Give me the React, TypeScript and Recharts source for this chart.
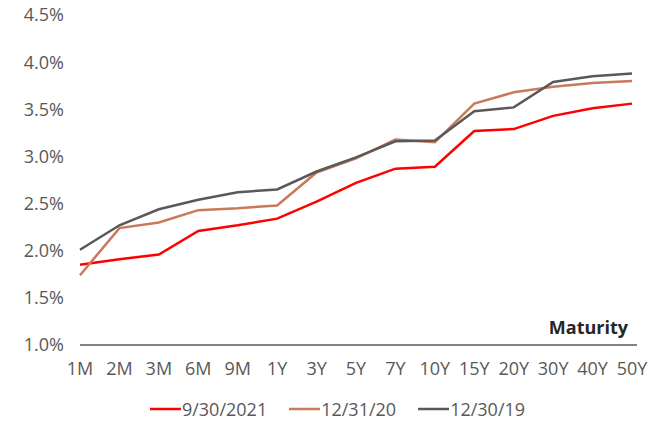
import React from 'react';
import { LineChart, Line, XAxis, YAxis, Legend } from 'recharts';

// Treasury-style yield curves, % by maturity
const maturities = ['1M', '2M', '3M', '6M', '9M', '1Y', '3Y', '5Y', '7Y', '10Y', '15Y', '20Y', '30Y', '40Y', '50Y'];
const sep2021 = [1.85, 1.91, 1.96, 2.21, 2.27, 2.34, 2.52, 2.72, 2.87, 2.89, 3.27, 3.29, 3.43, 3.51, 3.56];
const dec2020 = [1.74, 2.24, 2.3, 2.43, 2.45, 2.48, 2.83, 2.98, 3.18, 3.15, 3.56, 3.68, 3.74, 3.78, 3.8];
const dec2019 = [2.01, 2.27, 2.44, 2.54, 2.62, 2.65, 2.84, 2.99, 3.16, 3.17, 3.48, 3.52, 3.79, 3.85, 3.88];
const seriesNames = ['9/30/2021', '12/31/20', '12/30/19'];
const yTicks = [1, 1.5, 2, 2.5, 3, 3.5, 4, 4.5];

const data = maturities.map((m, i) => ({
  name: m,
  s1: sep2021[i],
  s2: dec2020[i],
  s3: dec2019[i],
}));

const font = '"Open Sans", sans-serif';

const LegendContent = (props: any) => {
  const items = [...(props.payload || [])].sort(
    (a: any, b: any) => seriesNames.indexOf(a.value) - seriesNames.indexOf(b.value)
  );
  return (
    <div style={{ display: 'flex', justifyContent: 'center', fontFamily: font, fontSize: 18, color: '#595959' }}>
      {items.map((it: any) => (
        <div key={it.value} style={{ display: 'flex', alignItems: 'center', margin: '0 11px' }}>
          <svg width={31} height={4} style={{ marginRight: 1 }}>
            <line x1={0} y1={2} x2={31} y2={2} stroke={it.color} strokeWidth={2.5} />
          </svg>
          <span>{it.value}</span>
        </div>
      ))}
    </div>
  );
};

const App: React.FC = () => {
  return (
    <div style={{ width: 656, height: 425, marginTop: -8 }}>
      <LineChart width={656} height={425} data={data} margin={{ top: 15, right: 27, left: 0, bottom: 0 }}>
        <XAxis
          dataKey="name"
          padding={{ left: 0, right: 5 }}
          interval={0}
          tickLine={false}
          tickSize={0}
          tickMargin={17}
          height={56}
          axisLine={{ stroke: '#595959', strokeWidth: 1.3 }}
          tick={{ fill: '#595959', fontSize: 18, fontFamily: font }}
          label={{
            content: (p: any) => {
              const vb = p.viewBox;
              return (
                <text x={vb.x + vb.width - 9} y={vb.y - 11} textAnchor="end" fill="#262626" fontWeight="bold" fontSize={18} fontFamily={font}>
                  Maturity
                </text>
              );
            },
          }}
        />
        <YAxis
          width={72}
          domain={[1, 4.5]}
          ticks={yTicks}
          axisLine={false}
          tickLine={false}
          tickSize={0}
          tickMargin={16}
          tickFormatter={(v: number) => v.toFixed(1) + '%'}
          tick={{ fill: '#595959', fontSize: 18, fontFamily: font }}
        />
        <Legend verticalAlign="bottom" content={LegendContent} wrapperStyle={{ top: 397, left: 0, width: 659 }} />
        <Line dataKey="s1" name={seriesNames[0]} stroke="#FF0000" strokeWidth={2.5} dot={false} isAnimationActive={false} />
        <Line dataKey="s2" name={seriesNames[1]} stroke="#C97A5B" strokeWidth={2.5} dot={false} isAnimationActive={false} />
        <Line dataKey="s3" name={seriesNames[2]} stroke="#595959" strokeWidth={2.5} dot={false} isAnimationActive={false} />
      </LineChart>
    </div>
  );
};

export default App;
